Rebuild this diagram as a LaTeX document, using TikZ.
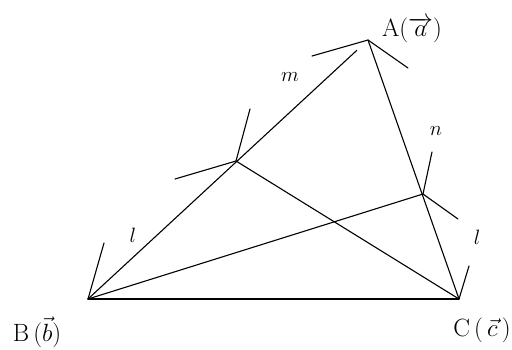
\documentclass[tikz,border=0pt]{standalone}
\usepackage{amsmath}
\usetikzlibrary{calc}
\begin{document}
\begin{tikzpicture}[x=1pt,y=-1pt,
  seg/.style={line width=1.1pt,line cap=round},
  lbl/.style={inner sep=0pt,font=\fontsize{25}{27}\selectfont},
  var/.style={inner sep=0pt,font=\fontsize{22}{24}\selectfont}]
\useasboundingbox (0,0) rectangle (512,349);
\coordinate (A) at (368,40);
\coordinate (B) at (88,299);
\coordinate (C) at (459,299);
\coordinate (P) at (236,161);
\coordinate (Q) at (423,194);
% ticks
\coordinate (a1) at (312,56);
\coordinate (a2) at (408,68);
\coordinate (p1) at (175,179);
\coordinate (p2) at (250,109);
\coordinate (q1) at (432,152);
\coordinate (q2) at (458,219);
\coordinate (b1) at (104,243);
\coordinate (c1) at (469,266);
% triangle
\draw[seg] (B) -- ($(B)!0.96!(A)$);
\draw[seg] (A) -- (C);
\draw[seg] (B) -- (C);
\draw[seg] (P) -- (C);
\draw[seg] (B) -- (Q);
% tick strokes
\draw[seg] (a1) -- (A) -- (a2);
\draw[seg] (p1) -- (P) -- (p2);
\draw[seg] (q1) -- (Q) -- (q2);
\draw[seg] (B) -- (b1);
\draw[seg] (C) -- (c1);
% labels
\node[lbl] (la) at (412,30) {A$(\overrightarrow{a})$};
\node[lbl] (lb) at (37,332) {B\,$(\vec{b})$};
\node[lbl] (lc) at (482,330) {C\,$(\,\vec{c}\,)$};
\node[var] (m) at (290,77) {$m$};
\node[var] (n) at (436,131) {$n$};
\node[var] (l1) at (133,235) {$l$};
\node[var] (l2) at (477,237) {$l$};
\end{tikzpicture}
\end{document}
